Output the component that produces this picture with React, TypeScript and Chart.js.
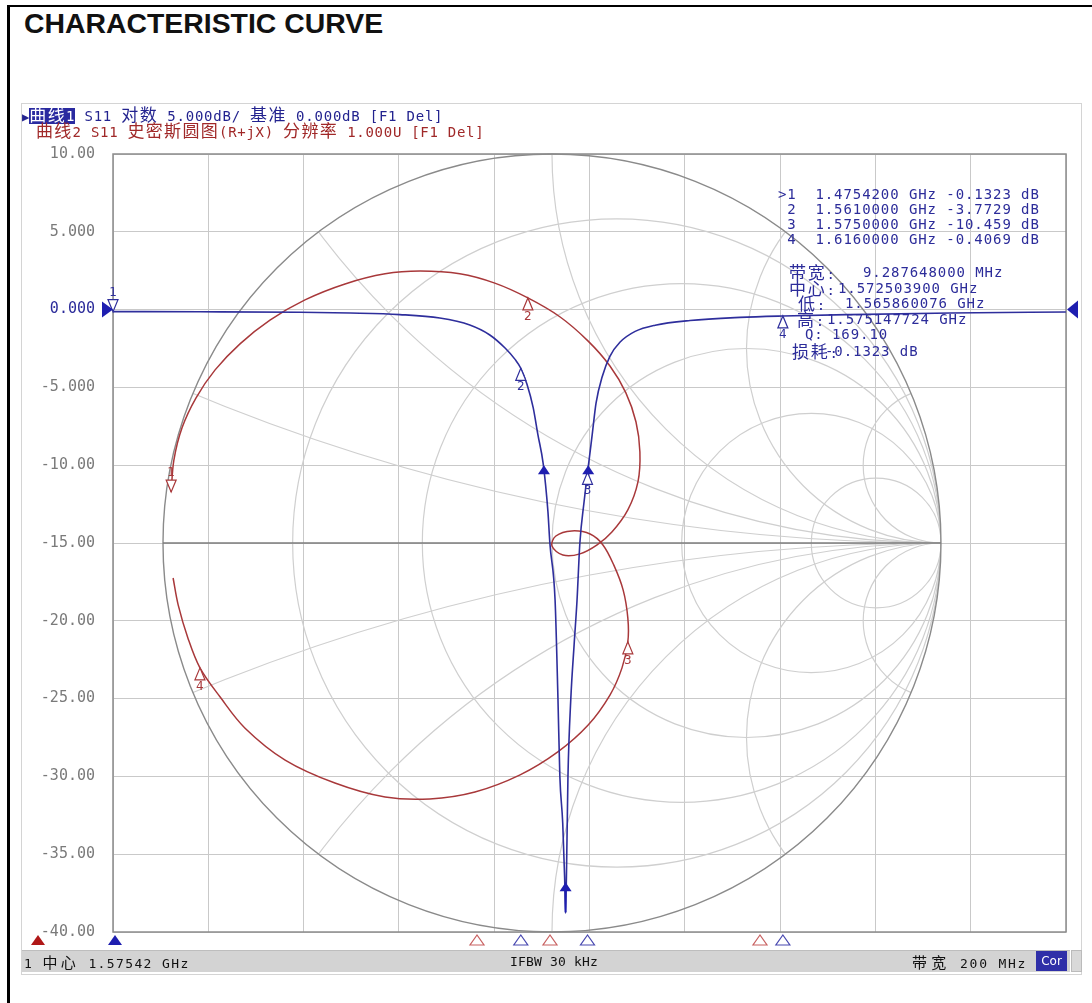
import React, { useEffect, useRef } from "react";
import { Chart, registerables } from "chart.js";
Chart.register(...registerables);

// ---------- axes ----------
const freqStartGHz = 1.47542;
const freqSpanGHz = 0.2;
const xDivisions = 10;
const yTickValues = [10, 5, 0, -5, -10, -15, -20, -25, -30, -35, -40];
const yTickLabels = ["10.00", "5.000", "0.000", "-5.000", "-10.00", "-15.00", "-20.00", "-25.00", "-30.00", "-35.00", "-40.00"];

// ---------- trace 1 : S11 log magnitude ----------
const s11FreqGHz = [1.4754, 1.4937, 1.5147, 1.5252, 1.5356, 1.544, 1.5503, 1.5545, 1.5577, 1.5598, 1.561, 1.5623, 1.5636, 1.5646, 1.5657, 1.5667, 1.5671, 1.5682, 1.5688, 1.5692, 1.5698, 1.5702, 1.5704, 1.5707, 1.5709, 1.5715, 1.5722, 1.5728, 1.5734, 1.5743, 1.575, 1.5752, 1.576, 1.5768, 1.5781, 1.5797, 1.5818, 1.585, 1.5892, 1.5965, 1.607, 1.616, 1.6301, 1.6511, 1.6754];
const s11Db = [-0.13, -0.14, -0.17, -0.22, -0.32, -0.54, -0.99, -1.63, -2.47, -3.2, -3.77, -4.8, -6.3, -8.05, -9.9, -13.0, -15.0, -18.7, -25, -30, -33, -36.5, -38.8, -34, -30, -25, -21.5, -18.7, -15, -12.3, -10.46, -10.0, -8.0, -6.0, -4.3, -3.0, -2.1, -1.4, -1.0, -0.7, -0.5, -0.41, -0.32, -0.22, -0.15];

// ---------- trace 2 : S11 Smith chart (reflection coefficient) ----------
const smithRe = [-0.979, -0.972, -0.951, -0.915, -0.866, -0.802, -0.725, -0.635, -0.532, -0.429, -0.339, -0.237, -0.147, -0.062, 0.021, 0.093, 0.149, 0.19, 0.216, 0.226, 0.221, 0.195, 0.154, 0.116, 0.072, 0.028, 0.0, 0.01, 0.051, 0.098, 0.131, 0.159, 0.183, 0.195, 0.195, 0.18, 0.149, 0.093, 0.015, -0.082, -0.198, -0.314, -0.429, -0.558, -0.686, -0.789, -0.853, -0.905, -0.936, -0.961, -0.974];
const smithIm = [0.131, 0.213, 0.296, 0.373, 0.445, 0.512, 0.573, 0.625, 0.666, 0.692, 0.699, 0.692, 0.668, 0.63, 0.581, 0.519, 0.455, 0.386, 0.311, 0.234, 0.157, 0.085, 0.028, -0.005, -0.028, -0.031, -0.008, 0.018, 0.031, 0.023, -0.005, -0.057, -0.121, -0.193, -0.254, -0.321, -0.391, -0.468, -0.537, -0.596, -0.64, -0.658, -0.653, -0.617, -0.558, -0.476, -0.396, -0.321, -0.244, -0.159, -0.09];

// ---------- markers ----------
const markerNames = ["1", "2", "3", "4"];
const markerFreqGHz = [1.47542, 1.561, 1.575, 1.616];
const markerDb = [-0.1323, -3.7729, -10.459, -0.4069];
const smithMarkerRe = [-0.979, -0.062, 0.195, -0.905];
const smithMarkerIm = [0.131, 0.63, -0.254, -0.321];
const bwFreqGHz = [1.565860076, 1.575147724];
const bwDb = [-10, -10];
const minFreqGHz = 1.5704;
const minDb = -36.8;
const redStimulusGHz = [1.45968, 1.55181, 1.56713, 1.6112];

// ---------- Smith grid ----------
const smithR = [0.2, 0.5, 1, 2, 5];
const smithX = [0.2, 0.5, 1, 2, 5];

// ---------- texts ----------
const header1Tag = "曲线1";
const header1Text = " S11 对数 5.000dB/ 基准 0.000dB [F1 Del]";
const header2Text = "曲线2 S11 史密斯圆图(R+jX) 分辨率 1.000U [F1 Del]";
const readoutRows = [
  ">1  1.4754200 GHz -0.1323 dB",
  " 2  1.5610000 GHz -3.7729 dB",
  " 3  1.5750000 GHz -10.459 dB",
  " 4  1.6160000 GHz -0.4069 dB",
];
const statsLabels = ["带宽:", "中心:", "低:", "高:", "Q:", "损耗:"];
const statsValues = ["9.287648000 MHz", "1.572503900 GHz", "1.565860076 GHz", "1.575147724 GHz", "169.10", "-0.1323 dB"];

const BLUE = "#2e2e9c";
const RED = "#a8383a";
const MONO = "'DejaVu Sans Mono', monospace";
const CJK = "'Noto Sans CJK SC', 'DejaVu Sans Mono', sans-serif";

const isCJK = (ch: string) => /[\u3000-\u9fff\uff00-\uffef]/.test(ch);

function MonoText({ text, cw, fs }: { text: string; cw: number; fs: number }) {
  const runs: { c: boolean; t: string }[] = [];
  for (const ch of text) {
    const c = isCJK(ch);
    if (runs.length && runs[runs.length - 1].c === c) runs[runs.length - 1].t += ch;
    else runs.push({ c, t: ch });
  }
  const cjkSize = Math.round(fs * 1.18);
  return (
    <>
      {runs.map((r, i) => (
        <span
          key={i}
          style={{
            fontFamily: r.c ? CJK : MONO,
            fontSize: r.c ? cjkSize : fs,
            letterSpacing: (r.c ? 2 * cw - cjkSize : cw - 0.602 * fs) + "px",
          }}
        >
          {r.t}
        </span>
      ))}
    </>
  );
}

function tri(ctx: CanvasRenderingContext2D, x: number, yTip: number, up: boolean, w: number, h: number, color: string, filled: boolean) {
  const yb = up ? yTip + h : yTip - h;
  ctx.beginPath();
  ctx.moveTo(x, yTip);
  ctx.lineTo(x - w / 2, yb);
  ctx.lineTo(x + w / 2, yb);
  ctx.closePath();
  if (filled) {
    ctx.fillStyle = color;
    ctx.fill();
  } else {
    ctx.fillStyle = "#ffffff";
    ctx.fill();
    ctx.strokeStyle = color;
    ctx.lineWidth = 1.2;
    ctx.stroke();
  }
}

const smithGridPlugin = {
  id: "smithGrid",
  beforeDatasetsDraw(chart: any) {
    const { ctx, chartArea } = chart;
    const gx = chart.scales.gx;
    const gy = chart.scales.gy;
    const px = (v: number) => gx.getPixelForValue(v);
    const py = (v: number) => gy.getPixelForValue(v);
    const unit = py(0) - py(1);
    const cx = px(0);
    const cy = py(0);
    ctx.save();
    ctx.beginPath();
    ctx.arc(cx, cy, unit, 0, Math.PI * 2);
    ctx.clip();
    ctx.strokeStyle = "#cfcfcf";
    ctx.lineWidth = 1.2;
    for (const r of smithR) {
      ctx.beginPath();
      ctx.arc(px(r / (1 + r)), cy, unit / (1 + r), 0, Math.PI * 2);
      ctx.stroke();
    }
    for (const x of smithX) {
      for (const s of [1, -1]) {
        ctx.beginPath();
        ctx.arc(px(1), py(s / x), unit / x, 0, Math.PI * 2);
        ctx.stroke();
      }
    }
    ctx.restore();
    ctx.save();
    ctx.strokeStyle = "#8a8a8a";
    ctx.lineWidth = 1.4;
    ctx.beginPath();
    ctx.arc(cx, cy, unit, 0, Math.PI * 2);
    ctx.stroke();
    ctx.strokeStyle = "#7c7c7c";
    ctx.lineWidth = 1.6;
    ctx.beginPath();
    ctx.moveTo(px(-1), cy);
    ctx.lineTo(px(1), cy);
    ctx.stroke();
    ctx.strokeStyle = "#8c8c8c";
    ctx.lineWidth = 1.5;
    ctx.strokeRect(chartArea.left, chartArea.top, chartArea.right - chartArea.left, chartArea.bottom - chartArea.top);
    ctx.restore();
  },
};

const markerPlugin = {
  id: "markers",
  afterDatasetsDraw(chart: any) {
    const { ctx, chartArea } = chart;
    const sx = chart.scales.x;
    const sy = chart.scales.y;
    const gx = chart.scales.gx;
    const gy = chart.scales.gy;
    ctx.save();
    ctx.font = "12px 'DejaVu Sans'";
    ctx.textAlign = "center";
    ctx.textBaseline = "middle";
    // trace 1 markers
    markerNames.forEach((n, i) => {
      const x = sx.getPixelForValue(markerFreqGHz[i]);
      const y = sy.getPixelForValue(markerDb[i]);
      if (i === 0) {
        tri(ctx, x, y, false, 10, 12, BLUE, false);
        ctx.fillStyle = BLUE;
        ctx.fillText(n, x, y - 19);
      } else {
        tri(ctx, x, y, true, 10, 12, BLUE, false);
        ctx.fillStyle = BLUE;
        ctx.fillText(n, x, y + 19);
      }
    });
    // trace 2 markers
    markerNames.forEach((n, i) => {
      const x = gx.getPixelForValue(smithMarkerRe[i]);
      const y = gy.getPixelForValue(smithMarkerIm[i]);
      if (i === 0) {
        tri(ctx, x, y, false, 10, 12, RED, false);
        ctx.fillStyle = RED;
        ctx.fillText(n, x, y - 19);
      } else {
        tri(ctx, x, y, true, 10, 12, RED, false);
        ctx.fillStyle = RED;
        ctx.fillText(n, x, y + 19);
      }
    });
    // bandwidth markers
    bwFreqGHz.forEach((f, i) => {
      tri(ctx, sx.getPixelForValue(f), sy.getPixelForValue(bwDb[i]), true, 12, 9, "#1e1eb0", true);
    });
    // minimum marker with stem
    const mx = sx.getPixelForValue(minFreqGHz);
    const my = sy.getPixelForValue(minDb);
    ctx.strokeStyle = "#1e1eb0";
    ctx.lineWidth = 2;
    ctx.beginPath();
    ctx.moveTo(mx, my + 6);
    ctx.lineTo(mx, my + 30);
    ctx.stroke();
    tri(ctx, mx, my, true, 12, 9, "#1e1eb0", true);

    // reference position triangles
    const y0 = sy.getPixelForValue(0);
    ctx.fillStyle = "#1e1eb0";
    ctx.beginPath();
    ctx.moveTo(chartArea.left, y0);
    ctx.lineTo(chartArea.left - 11, y0 - 8);
    ctx.lineTo(chartArea.left - 11, y0 + 8);
    ctx.closePath();
    ctx.fill();
    ctx.beginPath();
    ctx.moveTo(chartArea.right + 1, y0);
    ctx.lineTo(chartArea.right + 12, y0 - 9);
    ctx.lineTo(chartArea.right + 12, y0 + 9);
    ctx.closePath();
    ctx.fill();

    // stimulus markers along the bottom
    const yb = chartArea.bottom + 3;
    markerFreqGHz.forEach((f, i) => {
      tri(ctx, sx.getPixelForValue(f) + (i === 0 ? 2 : 0), yb, true, 14, 10, i === 0 ? "#1e1eb0" : "#4848b0", i === 0);
    });
    redStimulusGHz.forEach((f, i) => {
      tri(ctx, sx.getPixelForValue(f), yb, true, 14, 10, i === 0 ? "#b01818" : "#c86060", i === 0);
    });
    ctx.restore();
  },
};

export default function App() {
  const ref = useRef<HTMLCanvasElement | null>(null);
  useEffect(() => {
    if (!ref.current) return;
    const xGrid: number[] = [];
    for (let i = 0; i <= xDivisions; i++) xGrid.push(freqStartGHz + (freqSpanGHz * i) / xDivisions);
    const chart = new Chart(ref.current, {
      type: "scatter",
      data: {
        datasets: [
          {
            label: "S11 对数",
            data: s11FreqGHz.map((f, i) => ({ x: f, y: s11Db[i] })),
            xAxisID: "x",
            yAxisID: "y",
            showLine: true,
            borderColor: BLUE,
            borderWidth: 1.6,
            pointRadius: 0,
            cubicInterpolationMode: "monotone",
          } as any,
          {
            label: "S11 史密斯圆图",
            data: smithRe.map((r, i) => ({ x: r, y: smithIm[i] })),
            xAxisID: "gx",
            yAxisID: "gy",
            showLine: true,
            borderColor: RED,
            borderWidth: 1.5,
            pointRadius: 0,
            tension: 0.35,
          } as any,
        ],
      },
      options: {
        responsive: false,
        animation: false,
        layout: { padding: { left: 0, top: 154, right: 26, bottom: 71 } },
        plugins: { legend: { display: false }, tooltip: { enabled: false } },
        scales: {
          x: {
            type: "linear",
            position: "bottom",
            min: freqStartGHz,
            max: freqStartGHz + freqSpanGHz,
            afterBuildTicks: (s: any) => {
              s.ticks = xGrid.map((v) => ({ value: v }));
            },
            afterFit: (s: any) => {
              s.height = 0;
            },
            ticks: { display: false },
            grid: { color: "#c9c9c9", lineWidth: 1, drawTicks: false },
            border: { display: false },
          },
          y: {
            type: "linear",
            position: "left",
            min: -40,
            max: 10,
            afterBuildTicks: (s: any) => {
              s.ticks = yTickValues.map((v) => ({ value: v }));
            },
            afterFit: (s: any) => {
              s.width = 113;
            },
            ticks: {
              padding: 18,
              font: { family: "'DejaVu Sans Mono'", size: 15 },
              color: (c: any) => (c.tick && c.tick.value === 0 ? "#2b2b9a" : "#7a7a7a"),
              callback: (v: any) => {
                const i = yTickValues.indexOf(Number(v));
                return i >= 0 ? yTickLabels[i] : "";
              },
            },
            grid: { color: "#c9c9c9", lineWidth: 1, drawTicks: false },
            border: { display: false },
          },
          gx: { type: "linear", display: false, min: -1.1285, max: 1.32137 },
          gy: { type: "linear", display: false, min: -1, max: 1 },
        },
      } as any,
      plugins: [smithGridPlugin, markerPlugin],
    });
    return () => chart.destroy();
  }, []);

  const line = (top: number): React.CSSProperties => ({
    position: "absolute",
    top: top - 8,
    height: 16,
    lineHeight: "16px",
    whiteSpace: "pre",
    fontSize: 14,
    fontFamily: MONO,
  });

  const statsPos = [
    { lx: 789, vx: 863, y: 272 },
    { lx: 789, vx: 838, y: 288 },
    { lx: 798, vx: 845, y: 303 },
    { lx: 797, vx: 827, y: 319 },
    { lx: 805, vx: 832, y: 334 },
    { lx: 792, vx: 825, y: 351 },
  ];

  return (
    <div style={{ position: "absolute", left: 0, top: 0, width: 1092, height: 1003, background: "#fff", overflow: "hidden" }}>
      {/* outer black frame */}
      <div style={{ position: "absolute", left: 7, top: 5, width: 3, height: 998, background: "#000" }} />
      <div style={{ position: "absolute", left: 7, top: 5, width: 1085, height: 2, background: "#000" }} />
      <div
        style={{
          position: "absolute",
          left: 24,
          top: 9,
          fontFamily: "'Liberation Sans', Arial, sans-serif",
          fontWeight: "bold",
          fontSize: 28.4,
          lineHeight: "28px",
          color: "#111",
          whiteSpace: "pre",
        }}
      >
        CHARACTERISTIC CURVE
      </div>
      {/* screenshot frame */}
      <div style={{ position: "absolute", left: 21, top: 103, width: 1061, height: 872, border: "1px solid #d4d4d4", boxSizing: "border-box" }} />
      <canvas ref={ref} width={1092} height={1003} style={{ position: "absolute", left: 0, top: 0, width: 1092, height: 1003 }} />
      {/* header lines */}
      <div style={{ ...line(114), left: 22, color: "#23238f" }}>
        <span style={{ fontFamily: MONO, fontSize: 12 }}>▶</span>
        <span style={{ background: "#2a2aa0", color: "#ffffff" }}>
          <MonoText text={header1Tag} cw={9.2} fs={14} />
        </span>
        <MonoText text={header1Text} cw={9.2} fs={14} />
      </div>
      <div style={{ ...line(130), left: 36, color: "#a02828" }}>
        <MonoText text={header2Text} cw={9.15} fs={14} />
      </div>
      {/* marker readout */}
      {readoutRows.map((t, i) => (
        <div key={i} style={{ ...line(194 + i * 15), left: 778, color: "#2c2c9a" }}>
          <MonoText text={t} cw={9.35} fs={14} />
        </div>
      ))}
      {statsLabels.map((t, i) => (
        <React.Fragment key={i}>
          <div style={{ ...line(statsPos[i].y), left: statsPos[i].lx, color: "#2c2c9a" }}>
            <MonoText text={t} cw={9.35} fs={14} />
          </div>
          <div style={{ ...line(statsPos[i].y), left: statsPos[i].vx, color: "#2c2c9a" }}>
            <MonoText text={statsValues[i]} cw={9.35} fs={14} />
          </div>
        </React.Fragment>
      ))}
      {/* status bar */}
      <div style={{ position: "absolute", left: 22, top: 950, width: 1048, height: 22, background: "#d3d3d3", borderTop: "1px solid #bdbdbd", boxSizing: "border-box" }} />
      <div style={{ ...line(962), left: 24, fontSize: 13, color: "#111" }}>
        <MonoText text={"1 中心 1.57542 GHz"} cw={9.2} fs={13} />
      </div>
      <div style={{ ...line(962), left: 510, fontSize: 13, color: "#111" }}>
        <MonoText text={"IFBW 30 kHz"} cw={8.0} fs={13} />
      </div>
      <div style={{ ...line(962), left: 912, fontSize: 13, color: "#111" }}>
        <MonoText text={"带宽 200 MHz"} cw={9.6} fs={13} />
      </div>
      <div
        style={{
          position: "absolute",
          left: 1036,
          top: 951,
          width: 31,
          height: 20,
          background: "#2f2fa8",
          color: "#fff",
          fontFamily: "'DejaVu Sans', sans-serif",
          fontSize: 12,
          lineHeight: "20px",
          textAlign: "center",
        }}
      >
        Cor
      </div>
      <div style={{ position: "absolute", left: 1071, top: 950, width: 11, height: 22, background: "#d9d9d9", border: "1px solid #bbb", boxSizing: "border-box" }} />
    </div>
  );
}
